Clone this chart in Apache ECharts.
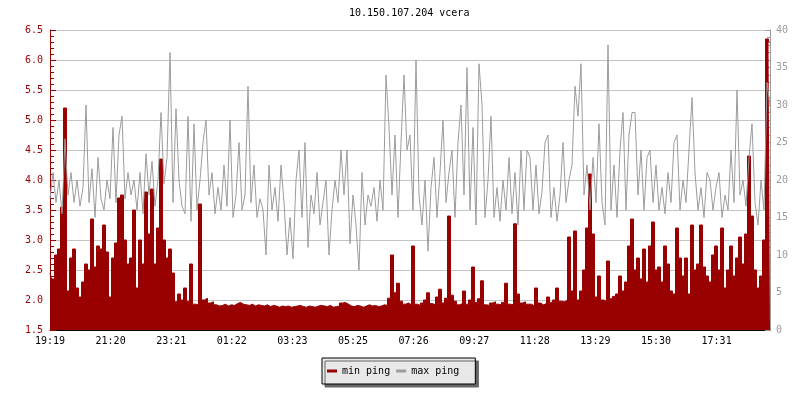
<!DOCTYPE html>
<html>
<head>
<meta charset="utf-8">
<script src="https://cdn.jsdelivr.net/npm/echarts@6/dist/echarts.min.js"></script>
<style>
  html, body { margin: 0; background: #fff; }
  #chart { width: 800px; height: 400px; }
</style>
</head>
<body>
<div id="chart"></div>
<script>
const chartTitle = '10.150.107.204 vcera'
const xTicks = ['19:19', '21:20', '23:21', '01:22', '03:23', '05:25', '07:26', '09:27', '11:28', '13:29', '15:30', '17:31']
const tickStep = 121.2   // minutes between x labels
const sampleStep = 6     // minutes between samples

// min ping (left axis), one sample every 6 minutes
const minPing = [
  2.45, 2.35, 2.75, 2.85, 3.55, 5.2, 2.15, 2.7, 2.85, 2.2, 2.05, 2.3, 2.6, 2.5, 3.35, 2.55, 2.9, 2.85, 3.25, 2.8,
  2.05, 2.7, 2.95, 3.7, 3.75, 3.0, 2.6, 2.7, 3.5, 2.2, 3.0, 2.6, 3.8, 3.1, 3.85, 2.6, 3.2, 4.35, 3.0, 2.7,
  2.85, 2.45, 1.97, 2.1, 2.0, 2.2, 1.98, 2.6, 1.93, 1.92, 3.6, 2.0, 2.03, 1.95, 1.97, 1.92, 1.9, 1.91, 1.93, 1.9,
  1.92, 1.91, 1.94, 1.96, 1.93, 1.92, 1.91, 1.93, 1.9, 1.92, 1.91, 1.9, 1.92, 1.89, 1.91, 1.9, 1.88, 1.9, 1.89, 1.9,
  1.88, 1.89, 1.9, 1.91, 1.89, 1.88, 1.9, 1.89, 1.88, 1.9, 1.91, 1.9, 1.89, 1.91, 1.88, 1.89, 1.9, 1.95, 1.96, 1.93,
  1.9, 1.89, 1.91, 1.9, 1.88, 1.9, 1.92, 1.9, 1.91, 1.89, 1.9, 1.92, 1.91, 2.03, 2.75, 2.12, 2.28, 1.98, 1.93, 1.95,
  1.92, 2.9, 1.93, 1.91, 1.95, 2.0, 2.12, 1.94, 1.92, 2.05, 2.18, 1.95, 2.03, 3.4, 2.08, 1.98, 1.92, 1.94, 2.15, 1.93,
  2.0, 2.55, 1.96, 2.02, 2.32, 1.92, 1.91, 1.95, 1.97, 1.93, 1.92, 1.96, 2.28, 1.93, 1.92, 3.27, 2.1, 1.95, 1.97, 1.93,
  1.93, 1.9, 2.2, 1.95, 1.92, 1.94, 2.05, 1.96, 2.0, 2.2, 1.98, 1.97, 2.0, 3.05, 2.15, 3.15, 2.0, 2.15, 2.5, 3.2,
  4.1, 3.1, 2.05, 2.4, 2.0, 1.98, 2.65, 2.02, 2.06, 2.1, 2.4, 2.15, 2.3, 2.9, 3.35, 2.5, 2.7, 2.35, 2.85, 2.3,
  2.9, 3.3, 2.5, 2.55, 2.3, 2.9, 2.6, 2.15, 2.1, 3.2, 2.7, 2.4, 2.7, 2.1, 3.25, 2.5, 2.6, 3.25, 2.55, 2.4,
  2.3, 2.75, 2.9, 2.5, 3.2, 2.2, 2.5, 2.9, 2.4, 2.7, 3.05, 2.6, 3.1, 4.4, 3.4, 2.5, 2.2, 2.4, 3.0, 6.35,
  6.3
]

// max ping (right axis)
const maxPing = [
  17.5, 21, 17, 20, 15.5, 25.5, 18, 21, 17, 20, 16.5, 19, 30, 17, 21.5, 15, 23, 17.5, 16, 20,
  17.5, 27, 17, 26, 28.5, 17.5, 21, 18, 20, 16, 21, 15.5, 23.5, 18, 22.5, 16.5, 20, 29, 19.5, 23,
  37, 17, 29.5, 20, 16.5, 15.5, 28.5, 14.5, 27.5, 16, 20, 25, 28, 18, 21, 15.5, 19, 16, 22, 16.5,
  28, 15, 18, 25, 16, 18, 32.5, 17, 22, 15, 17.5, 16, 10, 22, 16, 19, 14.5, 22, 17, 10,
  15, 9.5, 20, 24, 15, 25, 11, 18, 15.5, 21, 14, 17, 20, 10, 16, 20, 17, 24, 18, 24,
  11.5, 18, 14, 8, 21, 14, 18, 16.5, 19, 14.5, 20, 16, 34, 27, 18, 26, 15, 25, 34, 24,
  26, 16, 36, 18, 14, 20, 10.5, 19, 23, 15, 21, 28, 17, 21, 24, 15, 25, 30, 18, 35,
  16, 27, 14, 35.5, 30, 15, 20, 28.5, 15, 19, 14.5, 20, 16, 23, 15.5, 21, 14, 24, 16, 24,
  23, 16, 22, 15.5, 18.5, 25, 26, 15, 19, 14.5, 18, 25, 17, 20, 22, 32.5, 28.5, 35.5, 18, 22,
  16, 23, 17, 27.5, 17, 14, 38, 16, 22, 15, 24, 29, 16, 26, 29, 29, 18, 24, 16, 23,
  24, 17, 22, 16, 19, 15.5, 21, 17, 25, 26, 16, 20, 17, 24, 31, 21, 16, 19, 15, 21,
  20, 16, 19, 21, 15, 18, 16, 24, 17, 32, 18, 20, 16.5, 23, 27.5, 17, 14, 20, 16, 33,
  30
]

const mono = 'DejaVu Sans Mono'
const red = '#990000'
const gray = '#9c9c9c'

const chart = echarts.init(document.getElementById('chart'))

chart.setOption({
  animation: false,
  title: {
    text: chartTitle,
    left: 349,
    top: 8,
    padding: 0,
    textStyle: { fontFamily: mono, fontSize: 10, fontWeight: 'normal', color: '#000' },
  },
  legend: {
    bottom: 16,
    left: 322,
    data: ['min ping', 'max ping'],
    icon: 'rect',
    itemWidth: 10,
    itemHeight: 3,
    itemGap: 6,
    padding: [8, 16, 8, 5],
    backgroundColor: '#e8e8e8',
    borderColor: '#000',
    borderWidth: 1,
    borderRadius: 0,
    shadowColor: '#666',
    shadowBlur: 0,
    shadowOffsetX: 3,
    shadowOffsetY: 3,
    textStyle: { fontFamily: mono, fontSize: 10, color: '#000' },
  },
  grid: { left: 50, right: 30, top: 30, bottom: 70 },
  xAxis: {
    type: 'value',
    min: 0,
    max: 1440,
    interval: tickStep,
    axisLine: { lineStyle: { color: '#000', width: 1 } },
    axisTick: { inside: true, length: 5, lineStyle: { color: '#000' } },
    splitLine: { show: false },
    axisLabel: {
      margin: 6,
      fontFamily: mono,
      fontSize: 10,
      color: '#000',
      showMaxLabel: false,
      formatter: (v) => xTicks[Math.round(v / tickStep)] || '',
    },
  },
  yAxis: [
    {
      type: 'value',
      position: 'left',
      min: 1.5,
      max: 6.5,
      interval: 0.5,
      axisLine: { show: true, lineStyle: { color: red } },
      axisTick: { show: true, inside: true, length: 6, lineStyle: { color: red } },
      minorTick: { show: true, splitNumber: 5, length: 4, lineStyle: { color: red } },
      splitLine: { lineStyle: { color: '#c4c4c4', width: 1 } },
      axisLabel: { margin: 7, fontFamily: mono, fontSize: 10, color: red, formatter: (v) => v.toFixed(1) },
    },
    {
      type: 'value',
      position: 'right',
      min: 0,
      max: 40,
      interval: 5,
      axisLine: { show: true, lineStyle: { color: gray } },
      axisTick: { show: true, inside: true, length: 5, lineStyle: { color: gray } },
      minorTick: { show: true, splitNumber: 5, length: 3, lineStyle: { color: gray } },
      splitLine: { show: false },
      axisLabel: { margin: 6, fontFamily: mono, fontSize: 10, color: gray },
    },
  ],
  series: [
    {
      name: 'min ping',
      type: 'line',
      yAxisIndex: 0,
      step: 'middle',
      showSymbol: false,
      color: red,
      lineStyle: { color: red, width: 1 },
      areaStyle: { color: red, opacity: 1, origin: 'start' },
      data: minPing.map((v, i) => [i * sampleStep, v]),
    },
    {
      name: 'max ping',
      type: 'line',
      yAxisIndex: 1,
      showSymbol: false,
      color: gray,
      lineStyle: { color: gray, width: 1 },
      data: maxPing.map((v, i) => [i * sampleStep, v]),
    },
  ],
})
</script>
</body>
</html>
